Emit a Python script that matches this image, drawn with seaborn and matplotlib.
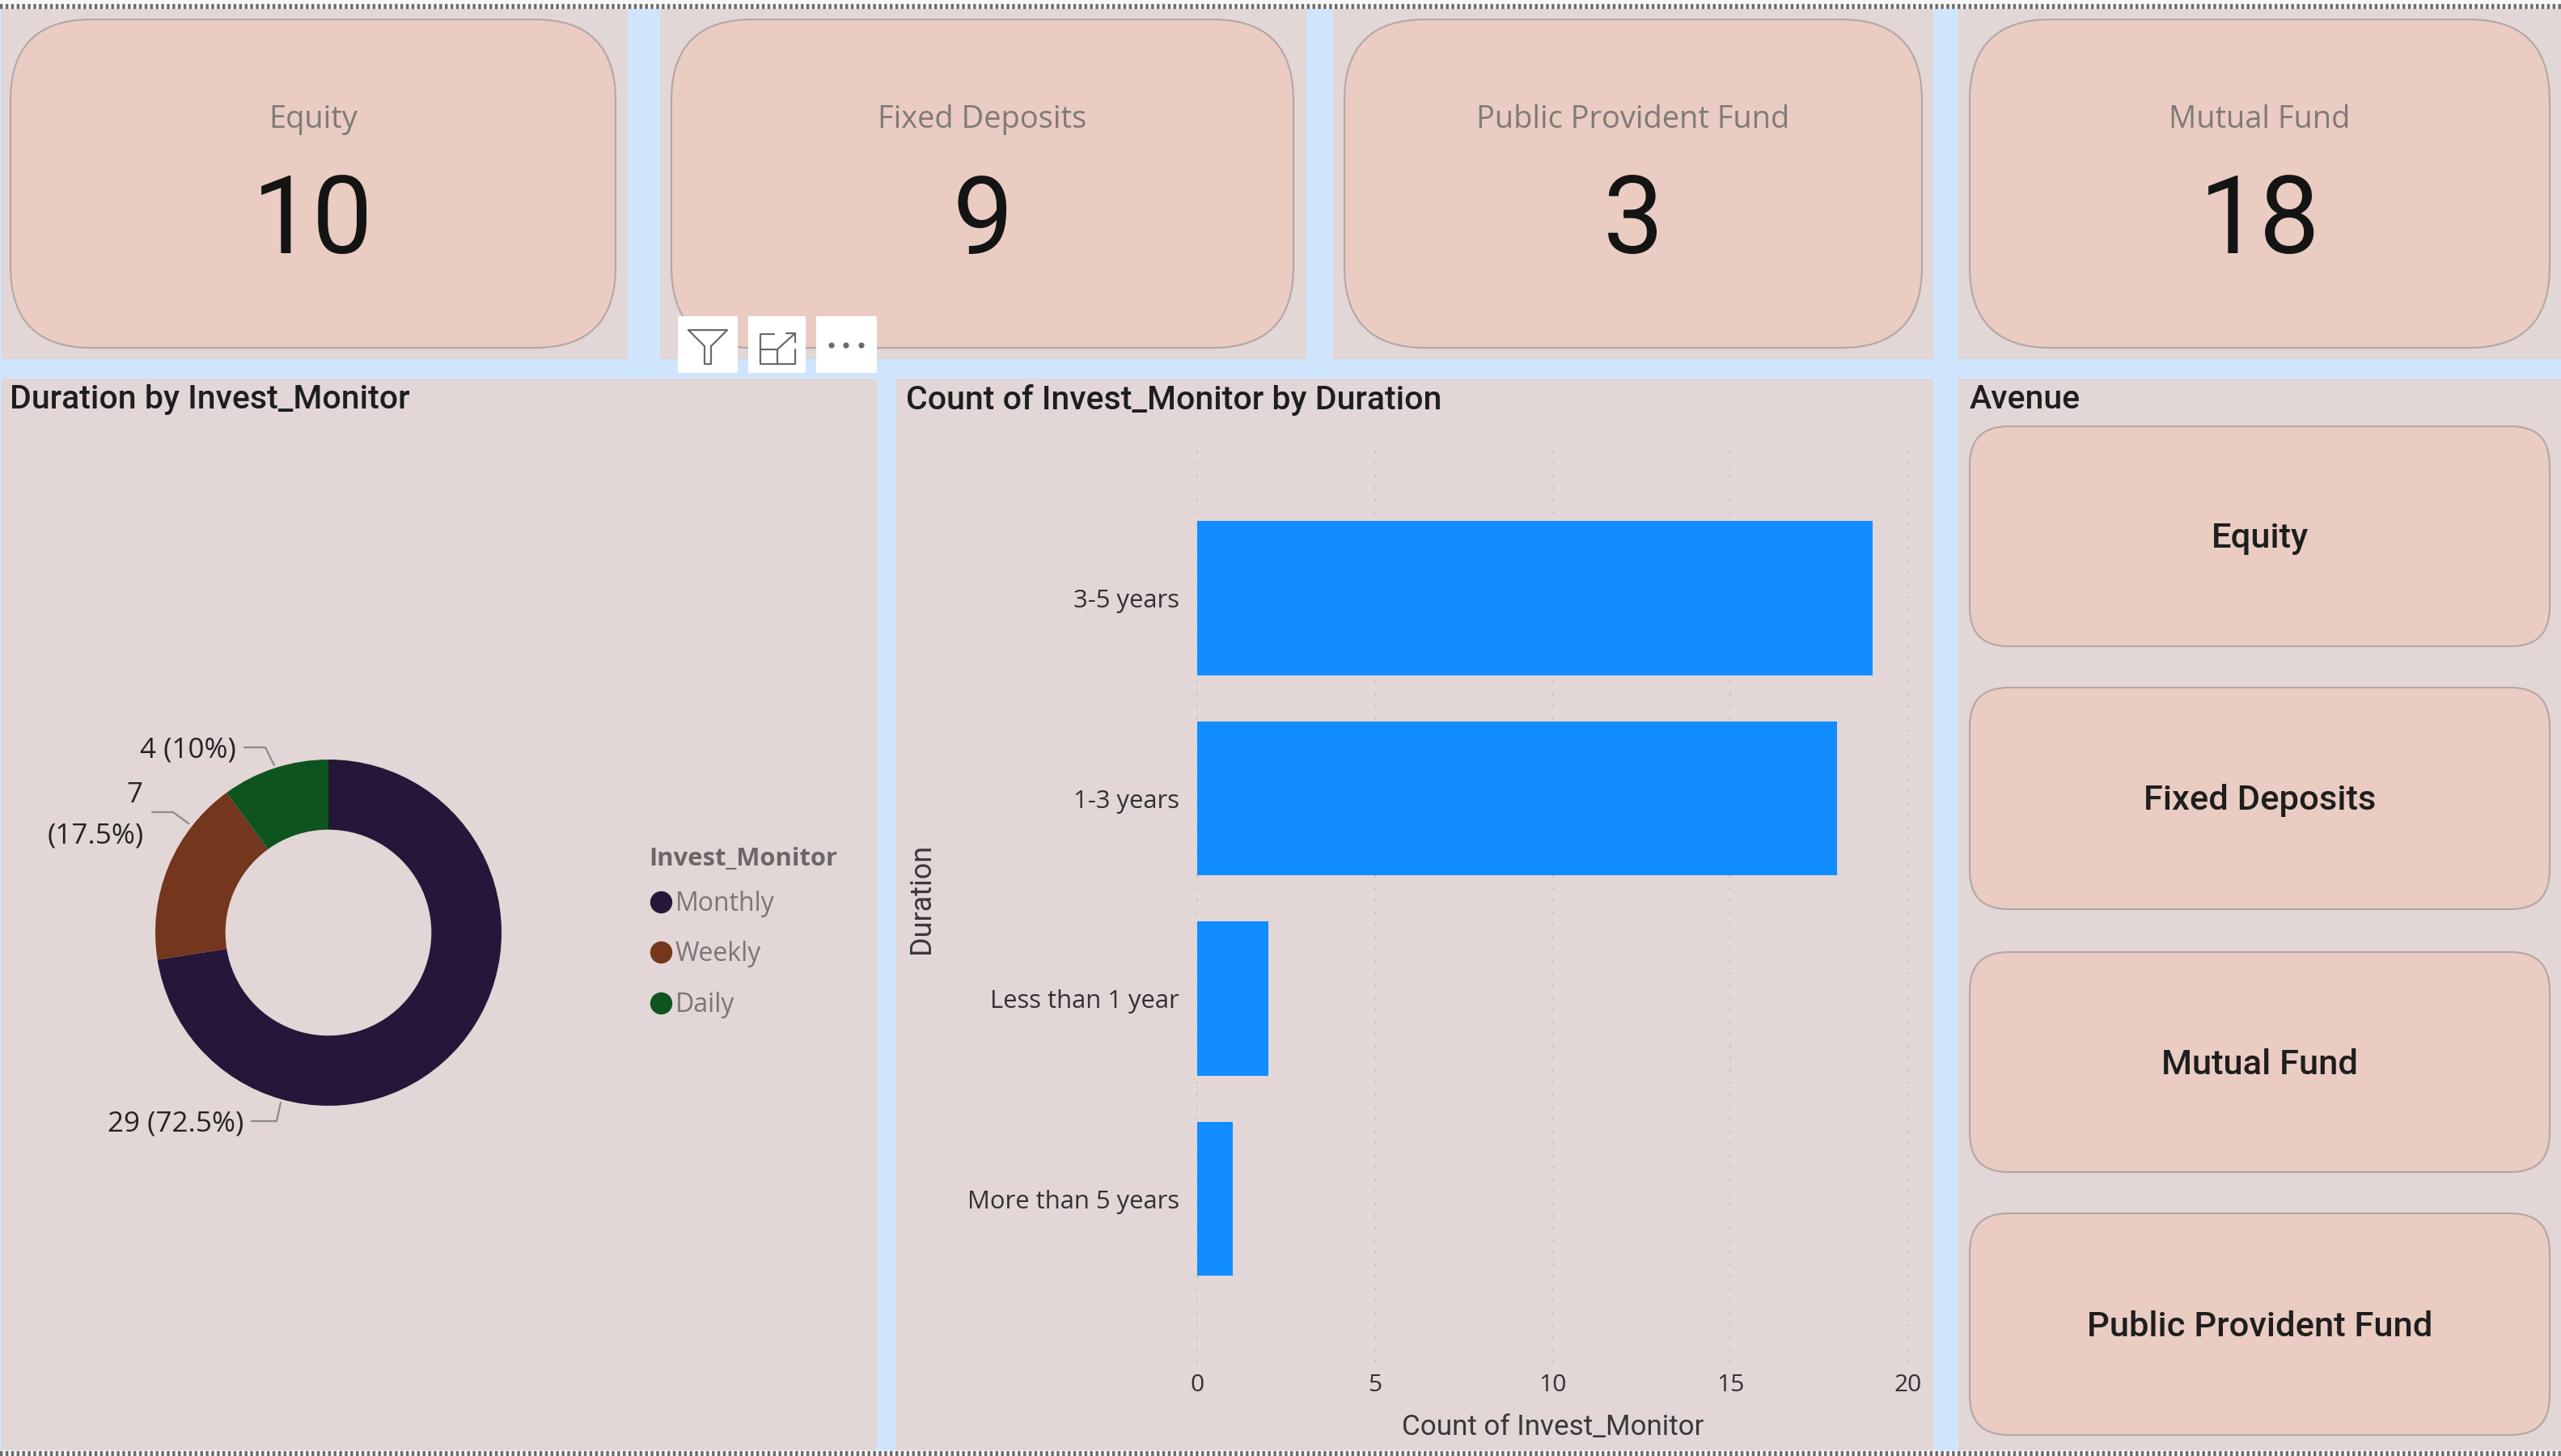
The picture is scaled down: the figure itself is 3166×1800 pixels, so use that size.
import matplotlib
matplotlib.use("Agg")
import matplotlib.pyplot as plt
import pandas as pd
import seaborn as sns
from matplotlib.lines import Line2D
from matplotlib.patches import FancyBboxPatch, Rectangle

# ---- data ----
kpi_labels = ["Equity", "Fixed Deposits", "Public Provident Fund", "Mutual Fund"]
kpi_values = [10, 9, 3, 18]
monitor_labels = ["Monthly", "Weekly", "Daily"]
monitor_counts = [29, 7, 4]
monitor_shares = ["72.5%", "17.5%", "10%"]
durations = ["3-5 years", "1-3 years", "Less than 1 year", "More than 5 years"]
duration_counts = [19, 18, 2, 1]
x_ticks = [0, 5, 10, 15, 20]
slicer_labels = ["Equity", "Fixed Deposits", "Mutual Fund", "Public Provident Fund"]

# ---- style ----
W, H = 3166, 1800
GAP = "#CFE5FD"
PANEL = "#E2D6D6"
CARD = "#EACCC2"
CARD_EDGE = "#B3A7A3"
BAR = "#118DFF"
DONUT = ["#261639", "#74361C", "#0F541E"]
DIN = ["Roboto", "DejaVu Sans"]
UI = ["Open Sans", "DejaVu Sans"]
px = 0.72  # pixels to points at dpi=100

sns.set_theme(style="white")
plt.rcParams["font.family"] = UI

fig = plt.figure(figsize=(W / 100, H / 100), dpi=100, facecolor="#F7F7F7")


def rect(x0, y0, x1, y1):
    return [x0 / W, 1 - y1 / H, (x1 - x0) / W, (y1 - y0) / H]


bg = fig.add_axes([0, 0, 1, 1], zorder=0)
bg.set_xlim(0, W)
bg.set_ylim(H, 0)
bg.axis("off")

bg.add_patch(Rectangle((0, 11), W, 1782, fc=GAP, ec="none"))
top_panels = [(2, 776), (816, 1615), (1648, 2390), (2421, 3166)]
top_cards = [(13, 761), (830, 1599), (1662, 2376), (2435, 3152)]
for x0, x1 in top_panels:
    bg.add_patch(Rectangle((x0, 11), x1 - x0, 433, fc=PANEL, ec="none"))
for x0, x1 in [(2, 1084), (1108, 2390), (2421, 3166)]:
    bg.add_patch(Rectangle((x0, 468), x1 - x0, 1325, fc=PANEL, ec="none"))

for (x0, x1), lab, val in zip(top_cards, kpi_labels, kpi_values):
    bg.add_patch(FancyBboxPatch((x0, 24), x1 - x0, 406,
                                boxstyle="round,pad=0,rounding_size=100",
                                fc=CARD, ec=CARD_EDGE, lw=1.5))
    c = (x0 + x1) / 2
    bg.text(c, 148, lab, ha="center", va="center", color="#7F7A78",
            family=UI, fontsize=38 * px)
    bg.text(c, 277, str(val), ha="center", va="center", color="#141414",
            family=DIN, fontsize=133 * px)

# dotted frame lines
for y in (8, 1797):
    bg.add_line(Line2D([0, W], [y, y], color="#6E6E6E", lw=4.5,
                       dashes=(0.55, 0.55), solid_capstyle="butt"))

# panel titles
for x, t in [(12, "Duration by Invest_Monitor"),
             (1120, "Count of Invest_Monitor by Duration"),
             (2435, "Avenue")]:
    bg.text(x, 494, t, ha="left", va="center", color="#1E1E1E",
            family=DIN, fontsize=41 * px, fontweight="medium")

# slicer cards
slicer_y = [(527, 799), (850, 1124), (1177, 1449), (1500, 1774)]
for (y0, y1), lab in zip(slicer_y, slicer_labels):
    bg.add_patch(FancyBboxPatch((2435, y0), 717, y1 - y0,
                                boxstyle="round,pad=0,rounding_size=48",
                                fc=CARD, ec=CARD_EDGE, lw=1.5))
    bg.text(2794, (y0 + y1) / 2 + 3, lab, ha="center", va="center",
            color="#1E1E1E", family=DIN, fontsize=43.5 * px, fontweight="medium")

# hover toolbar
for x0, x1 in [(838, 912), (925, 996), (1009, 1084)]:
    bg.add_patch(Rectangle((x0, 391), x1 - x0, 70, fc="white", ec="none"))
ic = dict(color="#6A6A6A", lw=1.6)
bg.add_line(Line2D([851, 899, 879, 879, 871, 871, 851],
                   [408, 408, 428, 450, 450, 428, 408], **ic))
bg.add_line(Line2D([957, 940, 940, 983, 983], [413, 413, 450, 450, 432], **ic))
bg.add_line(Line2D([940, 961, 961], [432, 432, 450], **ic))
bg.add_line(Line2D([962, 983], [431, 412], **ic))
bg.add_line(Line2D([972, 983, 983], [412, 412, 423], **ic))
for x in (1028, 1046, 1065):
    bg.add_patch(plt.Circle((x, 427), 3.6, fc="#6A6A6A", ec="none"))

# ---- donut ----
cx, cy, r = 406, 1153, 214
ax_pie = fig.add_axes(rect(cx - 1.1 * r, cy - 1.1 * r, cx + 1.1 * r, cy + 1.1 * r), zorder=1)
wedges, _ = ax_pie.pie(monitor_counts, colors=DONUT, startangle=90, counterclock=False,
                       wedgeprops=dict(width=0.405, edgecolor="none"))
ax_pie.set_xlim(-1.1, 1.1)
ax_pie.set_ylim(-1.1, 1.1)

lbl = dict(ha="right", va="center", color="#252423", family=UI, fontsize=35 * px)
bg.text(301, 1389, f"{monitor_counts[0]} ({monitor_shares[0]})", **lbl)
bg.text(176, 983, f"{monitor_counts[1]}", **lbl)
bg.text(178, 1034, f"({monitor_shares[1]})", **lbl)
bg.text(292, 928, f"{monitor_counts[2]} ({monitor_shares[2]})", **lbl)
lead = dict(color="#8E8A8A", lw=1.6)
bg.add_line(Line2D([311, 342, 347], [1386, 1386, 1363], **lead))
bg.add_line(Line2D([188, 214, 233], [1004, 1004, 1018], **lead))
bg.add_line(Line2D([302, 328, 339], [924, 924, 946], **lead))

handles = [Line2D([], [], marker="o", ls="none", color=c, markersize=26 * px)
           for c in DONUT]
bg.text(802, 1062, "Invest_Monitor", ha="left", va="center", color="#6B6766",
        family=UI, fontsize=31 * px, fontweight="bold")
bg.legend(handles, monitor_labels,
          loc="center left", bbox_to_anchor=(801 / W, 1 - 1180 / H),
          bbox_transform=fig.transFigure, frameon=False,
          prop=dict(family=UI, size=32 * px), labelcolor="#7A7675",
          handlelength=1, handletextpad=0.06, labelspacing=0.92,
          borderpad=0, borderaxespad=0)

# ---- bars ----
df = pd.DataFrame({"Duration": durations, "Count of Invest_Monitor": duration_counts})
ax = fig.add_axes(rect(1480, 555, 2359, 1685), zorder=1)
ax.patch.set_alpha(0)
sns.barplot(data=df, y="Duration", x="Count of Invest_Monitor", order=durations,
            color=BAR, saturation=1, width=0.77, ax=ax, zorder=3, edgecolor="none", linewidth=0)
ax.set_xlim(0, 20)
ax.set_ylim(3.82, -0.746)
ax.set_xticks(x_ticks)
ax.grid(axis="x", color="#CAC4C4", lw=1.5, dashes=(1.5, 5.7), zorder=0, clip_on=False)
ax.grid(axis="y", visible=False)
ax.set_axisbelow(True)
sns.despine(ax=ax, left=True, bottom=True, right=True, top=True)
ax.tick_params(axis="both", length=0)
ax.tick_params(axis="x", pad=9.5, labelsize=30 * px, labelcolor="#333131")
ax.tick_params(axis="y", pad=16, labelsize=31 * px, labelcolor="#333131")
for t in ax.get_xticklabels() + ax.get_yticklabels():
    t.set_family(UI)
for t in ax.get_yticklabels():
    t.set_verticalalignment("center_baseline")
ax.set_xlabel("Count of Invest_Monitor", family=DIN, fontsize=35 * px, color="#3A3838", labelpad=15)
ax.set_ylabel("")
bg.text(1139, 1111, "Duration", rotation=90, ha="center", va="center",
        family=DIN, fontsize=36 * px, color="#3A3838")

fig.savefig("out.png", dpi=100, facecolor=fig.get_facecolor())
